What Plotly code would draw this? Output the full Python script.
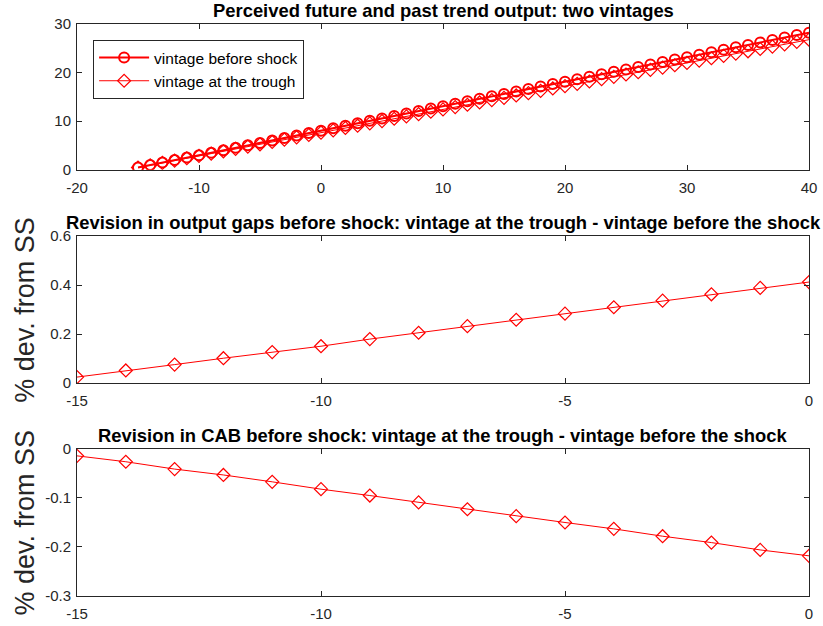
import plotly.graph_objects as go
from plotly.subplots import make_subplots

# ---- data ----
x_top = list(range(-15, 41))
before_shock = [0.50, 1.00, 1.51, 2.01, 2.52, 3.02, 3.52, 4.03, 4.53, 5.04, 5.54, 6.04, 6.55, 7.05,
                7.56, 8.06, 8.56, 9.07, 9.57, 10.08, 10.58, 11.08, 11.59, 12.09, 12.60, 13.10, 13.60,
                14.11, 14.61, 15.12, 15.62, 16.12, 16.63, 17.13, 17.64, 18.14, 18.64, 19.15, 19.65,
                20.16, 20.66, 21.16, 21.67, 22.17, 22.68, 23.18, 23.68, 24.19, 24.69, 25.20, 25.70,
                26.20, 26.71, 27.21, 27.72, 28.22]
at_trough = [0.47, 0.95, 1.43, 1.90, 2.39, 2.86, 3.34, 3.82, 4.30, 4.78, 5.26, 5.73, 6.21, 6.69,
             7.17, 7.65, 8.12, 8.61, 9.08, 9.57, 10.04, 10.51, 11.00, 11.47, 11.96, 12.43, 12.91,
             13.39, 13.86, 14.35, 14.82, 15.30, 15.78, 16.26, 16.74, 17.22, 17.69, 18.17, 18.65,
             19.13, 19.61, 20.08, 20.57, 21.04, 21.52, 22.00, 22.47, 22.96, 23.43, 23.92, 24.39,
             24.86, 25.35, 25.82, 26.31, 26.78]
x_rev = list(range(-15, 1))
gap_revision = [0.025, 0.052, 0.076, 0.102, 0.127, 0.151, 0.180, 0.206, 0.233, 0.259, 0.284,
                0.310, 0.337, 0.363, 0.389, 0.413]
cab_revision = [-0.014, -0.026, -0.041, -0.053, -0.067, -0.082, -0.095, -0.109, -0.123, -0.137,
                -0.150, -0.163, -0.178, -0.191, -0.206, -0.218]

titles = ["Perceived future and past trend output: two vintages",
          "Revision in output gaps before shock: vintage at the trough - vintage before the shock",
          "Revision in CAB before shock: vintage at the trough - vintage before the shock"]
ylab = "% dev. from SS"

RED = "#FF0000"
AX = "#262626"
FONT = "Liberation Sans, Arial, Helvetica, sans-serif"

fig = make_subplots(rows=3, cols=1)

fig.add_trace(go.Scatter(x=x_top, y=before_shock, mode="lines+markers", name="vintage before shock",
                         line=dict(color=RED, width=2),
                         marker=dict(symbol="circle-open", size=10, color=RED, line=dict(width=2))),
              row=1, col=1)
fig.add_trace(go.Scatter(x=x_top, y=at_trough, mode="lines+markers", name="vintage at the trough",
                         line=dict(color=RED, width=1),
                         marker=dict(symbol="diamond-open", size=10, color=RED, line=dict(width=1.2))),
              row=1, col=1)
fig.add_trace(go.Scatter(x=x_rev, y=gap_revision, mode="lines+markers", showlegend=False,
                         line=dict(color=RED, width=1),
                         marker=dict(symbol="diamond-open", size=10, color=RED, line=dict(width=1.2))),
              row=2, col=1)
fig.add_trace(go.Scatter(x=x_rev, y=cab_revision, mode="lines+markers", showlegend=False,
                         line=dict(color=RED, width=1),
                         marker=dict(symbol="diamond-open", size=10, color=RED, line=dict(width=1.2))),
              row=3, col=1)

domains = [[0.745, 1.0], [0.372, 0.629], [0.0, 0.257]]
xranges = [[-20, 40], [-15, 0], [-15, 0]]
xticks = [[-20, -10, 0, 10, 20, 30, 40], [-15, -10, -5, 0], [-15, -10, -5, 0]]
yranges = [[0, 30], [0, 0.6], [-0.3, 0]]
yticks = [[0, 10, 20, 30], [0, 0.2, 0.4, 0.6], [-0.3, -0.2, -0.1, 0]]

axcommon = dict(showgrid=False, zeroline=False, showline=True, linecolor=AX, linewidth=1,
                mirror="ticks", ticks="inside", ticklen=5, tickcolor=AX, automargin=False,
                tickfont=dict(family=FONT, size=15, color=AX))
for i in range(3):
    r = i + 1
    fig.update_xaxes(range=xranges[i], tickvals=xticks[i], ticktext=[str(v) for v in xticks[i]],
                     ticklabelstandoff=4, row=r, col=1, **axcommon)
    fig.update_yaxes(range=yranges[i], tickvals=yticks[i], ticktext=[("%g" % v) for v in yticks[i]],
                     ticklabelstandoff=2, domain=domains[i], row=r, col=1, **axcommon)

ann = []
for i in range(3):
    ann.append(dict(text="<b>%s</b>" % titles[i], xref="paper", yref="paper", x=0.5,
                    y=domains[i][1], yshift=1, xanchor="center", yanchor="bottom", showarrow=False,
                    font=dict(family=FONT, size=18.4, color="black")))
for i in (1, 2):
    ann.append(dict(text=ylab, xref="paper", yref="paper", x=-0.071, xanchor="center",
                    y=(domains[i][0] + domains[i][1]) / 2, yanchor="middle", textangle=-90,
                    showarrow=False, font=dict(family=FONT, size=27, color=AX)))

fig.update_layout(
    width=823, height=626,
    margin=dict(l=77, r=14, t=24, b=30, autoexpand=False),
    plot_bgcolor="white", paper_bgcolor="white",
    annotations=ann,
    legend=dict(x=0.022, y=0.972, xanchor="left", yanchor="top", bgcolor="white",
                bordercolor=AX, borderwidth=1, itemwidth=50,
                font=dict(family=FONT, size=15.5, color="black"), tracegroupgap=0),
)

fig.write_html("out.html")
